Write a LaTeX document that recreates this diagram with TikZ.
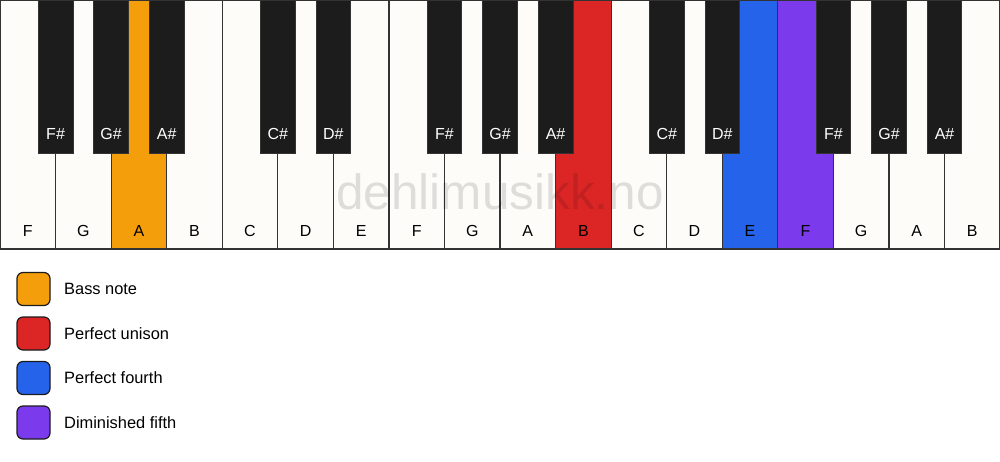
\documentclass[tikz,border=0pt]{standalone}
\usepackage{fontspec}
\setmainfont{Liberation Sans}
\usetikzlibrary{positioning}
\definecolor{ivory}{RGB}{253,252,248}
\definecolor{ebony}{RGB}{28,28,28}
\definecolor{keyline}{RGB}{51,51,51}
\definecolor{bassnote}{RGB}{245,158,11}
\definecolor{unison}{RGB}{220,38,38}
\definecolor{fourth}{RGB}{37,99,235}
\definecolor{dimfifth}{RGB}{124,58,237}
\newcommand{\whitewidth}{55.56pt}
\newcommand{\whiteheight}{249pt}
\newcommand{\blackwidth}{34.7pt}
\newcommand{\blackheight}{153pt}
\tikzstyle{whitekey} = [% white key, name at the bottom
  rectangle,
  minimum width=\whitewidth,
  minimum height=\whiteheight,
  inner sep=0pt,
  outer sep=0pt,
  text height=236pt,
  text depth=13pt,
  font=\fontsize{16}{19}\selectfont,
  draw=keyline,
  line width=1.2pt,
  fill=ivory
  ]
\tikzstyle{blackkey} = [% black key, hangs from the top edge
  rectangle,
  anchor=north,
  minimum width=\blackwidth,
  minimum height=\blackheight,
  inner sep=0pt,
  outer sep=0pt,
  text height=139pt,
  text depth=14pt,
  font=\fontsize{16}{19}\selectfont,
  text=white,
  draw=keyline,
  line width=0.8pt,
  fill=ebony
  ]
\tikzstyle{swatch} = [% legend colour box
  rectangle,
  rounded corners=6pt,
  minimum size=33pt,
  inner sep=0pt,
  outer sep=0pt,
  draw=ebony,
  line width=1.2pt
  ]
\tikzstyle{legendtext} = [% legend text
  anchor=west,
  inner sep=0pt,
  font=\fontsize{16.4}{19}\selectfont
  ]
\tikzstyle{watermark} = [% site name over the keys
  font=\fontsize{49.5}{55}\selectfont,
  text=black,
  text opacity=0.12
  ]

\begin{document}
\begin{tikzpicture}[x=1pt, y=-1pt, node distance=0pt]
\useasboundingbox (0,0) rectangle (1000,461);
\fill[white] (0,0) rectangle (1000,461);

%%% White keys
\node[whitekey, anchor=north west] (F1) at (0,0) {F};
\node[whitekey] (G1) [right=of F1] {G};
\node[whitekey, fill=bassnote] (A1) [right=of G1] {A};
\node[whitekey] (B1) [right=of A1] {B};
\node[whitekey] (C2) [right=of B1] {C};
\node[whitekey] (D2) [right=of C2] {D};
\node[whitekey] (E2) [right=of D2] {E};
\node[whitekey] (F2) [right=of E2] {F};
\node[whitekey] (G2) [right=of F2] {G};
\node[whitekey] (A2) [right=of G2] {A};
\node[whitekey, fill=unison] (B2) [right=of A2] {B};
\node[whitekey] (C3) [right=of B2] {C};
\node[whitekey] (D3) [right=of C3] {D};
\node[whitekey, fill=fourth] (E3) [right=of D3] {E};
\node[whitekey, fill=dimfifth] (F3) [right=of E3] {F};
\node[whitekey] (G3) [right=of F3] {G};
\node[whitekey] (A3) [right=of G3] {A};
\node[whitekey] (B3) [right=of A3] {B};

%%% Black keys
\node[blackkey] (Fs1) at (F1.north east) {F\#};
\node[blackkey] (Gs1) at (G1.north east) {G\#};
\node[blackkey] (As1) at (A1.north east) {A\#};
\node[blackkey] (Cs2) at (C2.north east) {C\#};
\node[blackkey] (Ds2) at (D2.north east) {D\#};
\node[blackkey] (Fs2) at (F2.north east) {F\#};
\node[blackkey] (Gs2) at (G2.north east) {G\#};
\node[blackkey] (As2) at (A2.north east) {A\#};
\node[blackkey] (Cs3) at (C3.north east) {C\#};
\node[blackkey] (Ds3) at (D3.north east) {D\#};
\node[blackkey] (Fs3) at (F3.north east) {F\#};
\node[blackkey] (Gs3) at (G3.north east) {G\#};
\node[blackkey] (As3) at (A3.north east) {A\#};

%%% Watermark
\node[watermark] (site) at (500,191.5) {dehlimusikk.no};

%%% Legend
\node[swatch, fill=bassnote] (bass) at (33.5,289) {};
\node[swatch, fill=unison] (unis) [below=11.5pt of bass] {};
\node[swatch, fill=fourth] (four) [below=11.5pt of unis] {};
\node[swatch, fill=dimfifth] (dimf) [below=11.5pt of four] {};
\node[legendtext] (basstext) [right=14pt of bass] {Bass note};
\node[legendtext] (unistext) [right=14pt of unis] {Perfect unison};
\node[legendtext] (fourtext) [right=14pt of four] {Perfect fourth};
\node[legendtext] (dimftext) [right=14pt of dimf] {Diminished fifth};

\end{tikzpicture}
\end{document}
